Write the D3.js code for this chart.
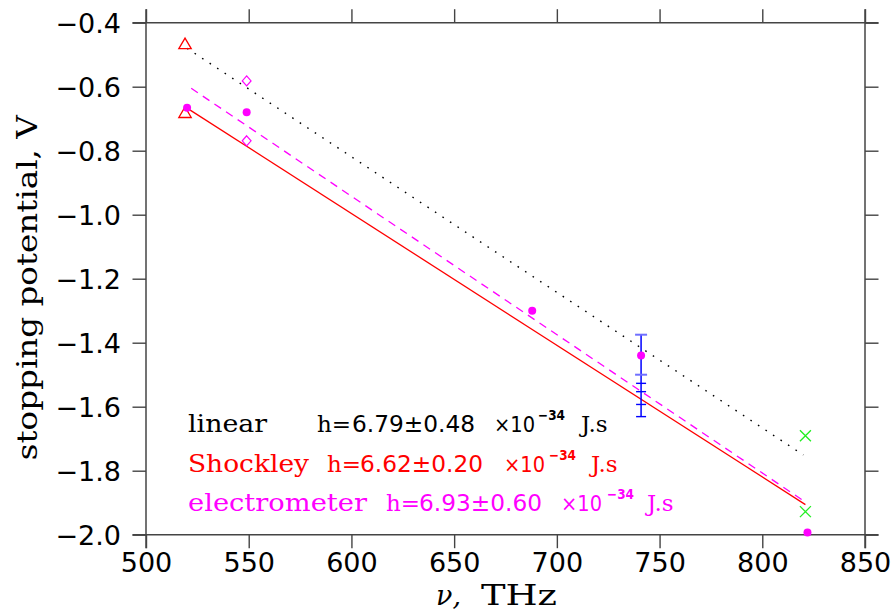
<!DOCTYPE html>
<html>
<head>
<meta charset="utf-8">
<script src="https://cdn.jsdelivr.net/npm/d3@7"></script>
<style>
  body { margin: 0; background: #fff; }
  .tick text { font-family: "DejaVu Sans", sans-serif; font-size: 27px; fill: #000; }
  .tick line { stroke: #444; stroke-width: 1.4; }
</style>
</head>
<body>
<div class="chart"></div>
<script>
// Photoelectric effect: stopping potential vs frequency
var svgWidth = 891;
var svgHeight = 612;

var margin = { top: 22.7, right: 26, bottom: 77.3, left: 146 };
var width = svgWidth - margin.left - margin.right;
var height = svgHeight - margin.top - margin.bottom;

// ---- data ----
var xTicks = [500, 550, 600, 650, 700, 750, 800, 850];
var yTicks = [-0.4, -0.6, -0.8, -1.0, -1.2, -1.4, -1.6, -1.8, -2.0];

var triangleNu = [519, 519];
var triangleV = [-0.465, -0.68];

var diamondNu = [549, 549];
var diamondV = [-0.582, -0.769];

var dotNu = [520, 549, 688, 741, 822];
var dotV = [-0.666, -0.68, -1.30, -1.44, -1.993];

var crossNu = [821, 821];
var crossV = [-1.691, -1.928];

// error bars at 741 THz: [low, high], light = first one
var errNu = 741;
var errLow = [-1.375, -1.527, -1.553];
var errHigh = [-1.50, -1.593, -1.631];

// fitted lines
var fitNames = ["linear", "Shockley", "electrometer"];
var fitH = ["6.79", "6.62", "6.93"];
var fitErr = ["0.48", "0.20", "0.60"];
var fitNu0 = [520, 520, 522];
var fitV0 = [-0.48, -0.667, -0.605];
var fitNu1 = [820, 821, 821];
var fitV1 = [-1.751, -1.906, -1.898];

// ---- styles ----
var fitColors = ["#000000", "#ff0000", "#ff00ff"];
var fitDash = ["1.6 7.4", null, "8 6"];
var fitWidth = [1.4, 1.3, 1.3];

var svg = d3.select(".chart")
  .append("svg")
  .attr("width", svgWidth)
  .attr("height", svgHeight);

var chartGroup = svg.append("g")
  .attr("transform", `translate(${margin.left}, ${margin.top})`);

var x = d3.scaleLinear().domain([500, 850]).range([0, width]);
var y = d3.scaleLinear().domain([-0.4, -2.0]).range([0, height]);

var tick = 13.5;

// axes, ticks pointing outward on all four sides
var bottomAxis = chartGroup.append("g")
  .attr("transform", `translate(0, ${height})`)
  .call(d3.axisBottom(x).tickValues(xTicks).tickSize(tick).tickFormat(d3.format("d")));
bottomAxis.selectAll("text").attr("y", 37.5).attr("dy", 0);

var leftAxis = chartGroup.append("g")
  .call(d3.axisLeft(y).tickValues(yTicks).tickSize(tick).tickFormat(d3.format(".1f")));
leftAxis.selectAll("text").attr("x", -25).attr("dy", "0.36em");

chartGroup.append("g")
  .call(d3.axisTop(x).tickValues(xTicks).tickSize(tick).tickFormat(""));
chartGroup.append("g")
  .attr("transform", `translate(${width}, 0)`)
  .call(d3.axisRight(y).tickValues(yTicks).tickSize(tick).tickFormat(""));

chartGroup.selectAll(".domain").remove();

// frame lines run past the corners
var frame = [
  [-tick, 0, width + tick, 0],
  [-tick, height, width + tick, height],
  [0, -tick, 0, height + tick],
  [width, -tick, width, height + tick]
];
chartGroup.selectAll(".frame")
  .data(frame)
  .enter()
  .append("line")
  .attr("x1", d => d[0]).attr("y1", d => d[1])
  .attr("x2", d => d[2]).attr("y2", d => d[3])
  .attr("stroke", "#444")
  .attr("stroke-width", 1.5);

// fit lines
chartGroup.selectAll(".fit")
  .data(fitNames)
  .enter()
  .append("line")
  .attr("x1", (d, i) => x(fitNu0[i]))
  .attr("y1", (d, i) => y(fitV0[i]))
  .attr("x2", (d, i) => x(fitNu1[i]))
  .attr("y2", (d, i) => y(fitV1[i]))
  .attr("stroke", (d, i) => fitColors[i])
  .attr("stroke-width", (d, i) => fitWidth[i])
  .attr("stroke-dasharray", (d, i) => fitDash[i]);

// error bars
var errGroup = chartGroup.append("g");
errGroup.append("line")
  .attr("x1", x(errNu)).attr("x2", x(errNu))
  .attr("y1", y(d3.max(errLow))).attr("y2", y(d3.min(errHigh)))
  .attr("stroke", "#0000ff").attr("stroke-width", 1.5);
errLow.forEach(function (lo, i) {
  [lo, errHigh[i]].forEach(function (v) {
    errGroup.append("line")
      .attr("x1", x(errNu) - (i === 0 ? 6 : 5))
      .attr("x2", x(errNu) + (i === 0 ? 6 : 5))
      .attr("y1", y(v)).attr("y2", y(v))
      .attr("stroke", i === 0 ? "#6f6fff" : "#0000ff")
      .attr("stroke-width", i === 0 ? 2 : 1.4);
  });
});

// triangles
chartGroup.selectAll(".tri")
  .data(triangleNu)
  .enter()
  .append("path")
  .attr("transform", (d, i) => `translate(${x(d)}, ${y(triangleV[i])})`)
  .attr("d", "M0,-5.4L6.2,5.2L-6.2,5.2Z")
  .attr("fill", "none")
  .attr("stroke", "#ff0000")
  .attr("stroke-width", 1.3);

// diamonds
chartGroup.selectAll(".dia")
  .data(diamondNu)
  .enter()
  .append("path")
  .attr("transform", (d, i) => `translate(${x(d)}, ${y(diamondV[i])})`)
  .attr("d", "M0,-5L4.4,0L0,5L-4.4,0Z")
  .attr("fill", "none")
  .attr("stroke", "#ff00ff")
  .attr("stroke-width", 1.2);

// crosses
chartGroup.selectAll(".cross")
  .data(crossNu)
  .enter()
  .append("path")
  .attr("transform", (d, i) => `translate(${x(d)}, ${y(crossV[i])})`)
  .attr("d", "M-5.5,-5.5L5.5,5.5M-5.5,5.5L5.5,-5.5")
  .attr("stroke", "#22ee22")
  .attr("stroke-width", 1.3);

// filled dots
chartGroup.selectAll(".dot")
  .data(dotNu)
  .enter()
  .append("circle")
  .attr("cx", d => x(d))
  .attr("cy", (d, i) => y(dotV[i]))
  .attr("r", 4)
  .attr("fill", "#ff00ff");

// legend text: [x of name, x of "h=", x of number, x of "×10", x of exponent, x of "J.s"]
var legendLayout = [
  [188, 317, 352, 494, 538, 581],
  [188, 327, 360, 504, 549, 591],
  [188, 386, 419, 561, 607, 647]
];
var nameWidth = [79, 121, 179];
var legendBase = [432, 471.5, 510.5];
var serif = "'DejaVu Serif', serif";
var sans = "'DejaVu Sans', sans-serif";

fitNames.forEach(function (name, i) {
  var L = legendLayout[i];
  var g = svg.append("g").attr("fill", fitColors[i]);
  var b = legendBase[i];
  g.append("text").attr("x", L[0]).attr("y", b)
    .attr("font-family", serif).attr("font-size", 24)
    .attr("textLength", nameWidth[i]).attr("lengthAdjust", "spacingAndGlyphs")
    .text(name);
  g.append("text").attr("x", L[1]).attr("y", b)
    .attr("font-family", serif).attr("font-size", 23)
    .text("h=");
  g.append("text").attr("x", L[2]).attr("y", b)
    .attr("font-family", sans).attr("font-size", 23)
    .attr("textLength", 123).attr("lengthAdjust", "spacingAndGlyphs")
    .text(fitH[i] + "\u00b1" + fitErr[i]);
  g.append("text").attr("x", L[3]).attr("y", b)
    .attr("font-family", sans).attr("font-size", 22)
    .attr("textLength", 41).attr("lengthAdjust", "spacingAndGlyphs")
    .text("\u00d710");
  g.append("text").attr("x", L[4]).attr("y", b - 12)
    .attr("font-family", sans).attr("font-size", 14).attr("font-weight", "bold")
    .attr("textLength", 27).attr("lengthAdjust", "spacingAndGlyphs")
    .text("\u221234");
  g.append("text").attr("x", L[5]).attr("y", b)
    .attr("font-family", serif).attr("font-size", 23)
    .text("J.s");
});

// axis titles
svg.append("text")
  .attr("transform", `translate(37, ${margin.top + height / 2 + 9}) rotate(-90)`)
  .attr("text-anchor", "middle")
  .attr("font-family", serif)
  .attr("font-size", 27)
  .attr("textLength", 345).attr("lengthAdjust", "spacingAndGlyphs")
  .text("stopping potential, V");

var xTitle = svg.append("text")
  .attr("y", 605)
  .attr("font-family", serif)
  .attr("font-size", 27);
xTitle.append("tspan").attr("x", 436).attr("font-style", "italic").text("\u03bd,");
xTitle.append("tspan").attr("x", 481)
  .attr("textLength", 76).attr("lengthAdjust", "spacingAndGlyphs")
  .text("THz");
</script>
</body>
</html>
